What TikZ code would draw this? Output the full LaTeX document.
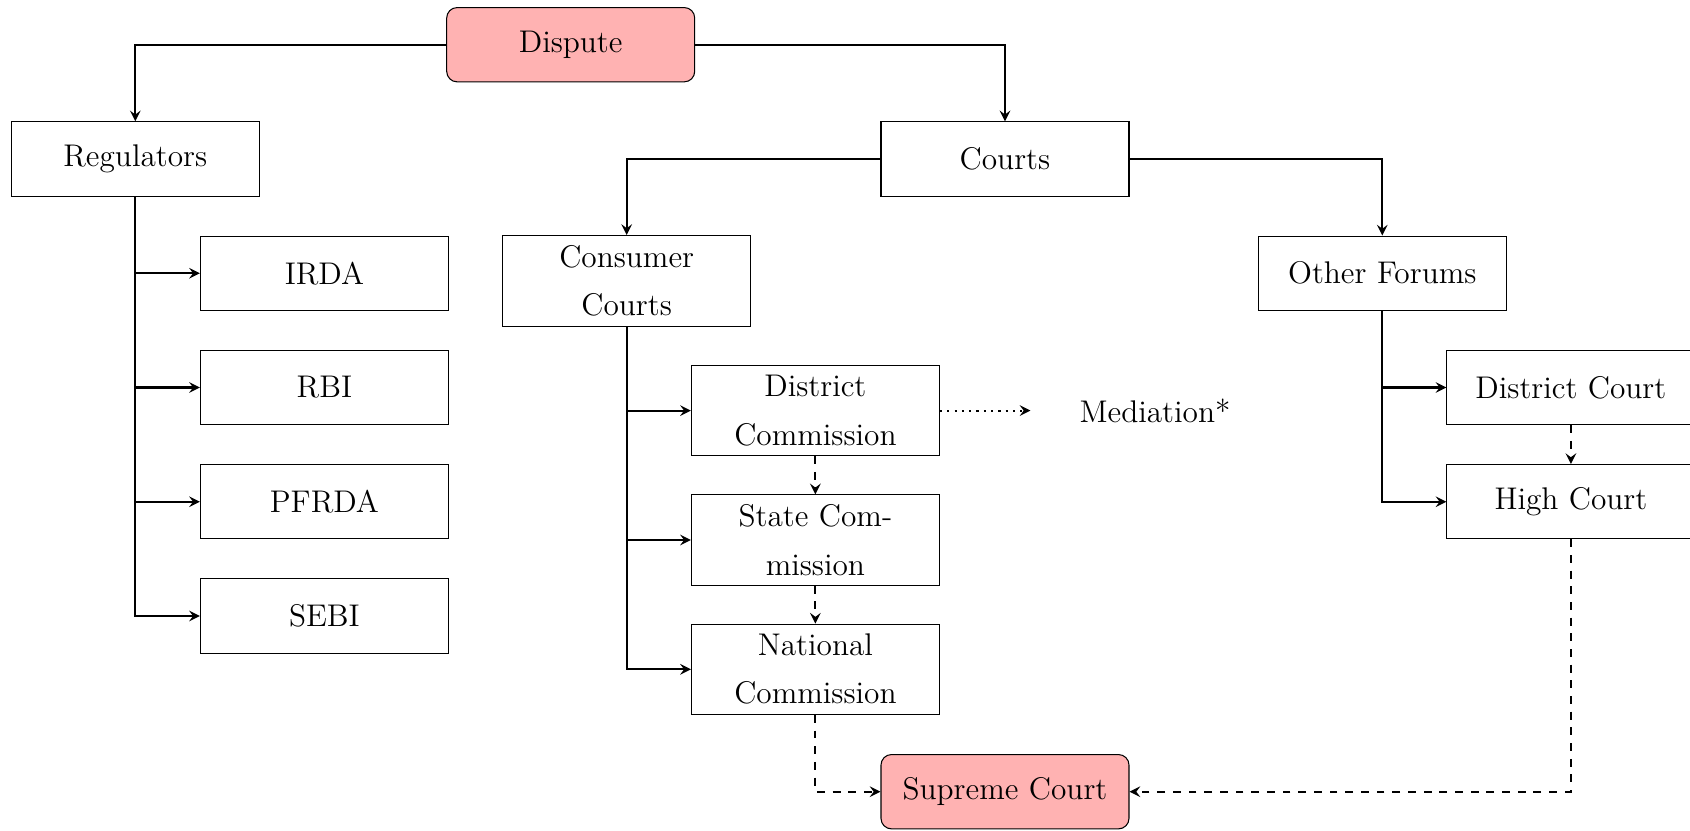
\documentclass[tikz,border=0pt]{standalone}
\usetikzlibrary{arrows.meta}
\begin{document}
\begin{tikzpicture}[x=0.013459cm,y=-0.013459cm,
  box/.style={draw, thin, text width=3cm, align=center, minimum height=1cm, inner xsep=4.8pt, inner ysep=3.76pt, font=\linespread{1.32}\large},
  root/.style={box, rounded corners, fill=red!30},
  plain/.style={text width=3cm, align=center, minimum height=1cm, inner xsep=4.8pt, font=\large},
  conn/.style={thick, -stealth},
  conndash/.style={thick, dashed, -stealth},
  conndot/.style={thick, dotted, -stealth}]
\useasboundingbox (0,0) rectangle (1690,830);
\node[root] (dispute) at (570.7,44.7) {Dispute};
\node[box] (reg) at (135.3,159) {Regulators};
\node[box] (courts) at (1005,159) {Courts};
\node[box] (irda) at (324.4,273.2) {IRDA};
\node[box] (rbi) at (324.4,387.5) {RBI};
\node[box] (pfrda) at (324.4,501.7) {PFRDA};
\node[box] (sebi) at (324.4,616) {SEBI};
\node[box] (cons) at (626.7,280.8) {Consumer Courts};
\node[box] (other) at (1382.3,273.2) {Other Forums};
\node[box] (dcom) at (815.4,410.6) {District Commission};
\node[box] (scom) at (815.4,540) {State Commission};
\node[box] (ncom) at (815.4,669.3) {National Commission};
\node[plain] (med) at (1155,410.6) {Mediation*};
\node[box] (dcourt) at (1570.9,387.5) {District Court};
\node[box] (hcourt) at (1570.9,501.7) {High Court};
\node[root] (sc) at (1005,791.7) {Supreme Court};

\draw[conn] (dispute.west) -| (reg.north);
\draw[conn] (dispute.east) -| (courts.north);
\draw[conn] (courts.west) -| (cons.north);
\draw[conn] (courts.east) -| (other.north);
\draw[conn] (reg.south) |- (irda.west);
\draw[conn] (reg.south) |- (rbi.west);
\draw[conn] (reg.south) |- (pfrda.west);
\draw[conn] (reg.south) |- (sebi.west);
\draw[conn] (cons.south) |- (dcom.west);
\draw[conn] (cons.south) |- (scom.west);
\draw[conn] (cons.south) |- (ncom.west);
\draw[conn] (other.south) |- (dcourt.west);
\draw[conn] (other.south) |- (hcourt.west);
\draw[conndash] (dcom.south) -- (scom.north);
\draw[conndash] (scom.south) -- (ncom.north);
\draw[conndash] (dcourt.south) -- (hcourt.north);
\draw[conndash] (ncom.south) |- (sc.west);
\draw[conndash] (hcourt.south) |- (sc.east);
\draw[conndot] (dcom.east) -- (med.west);
\end{tikzpicture}
\end{document}
